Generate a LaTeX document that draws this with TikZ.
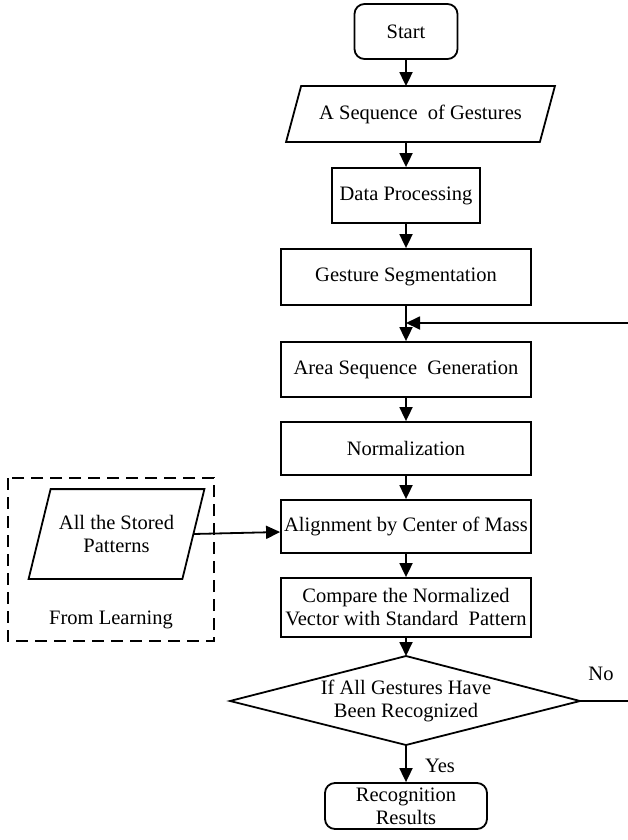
\documentclass[tikz,border=0pt]{standalone}
\usepackage{fontspec}
\setmainfont{Liberation Serif}
\usetikzlibrary{arrows.meta}
\begin{document}
\begin{tikzpicture}[x=1pt,y=-1pt,
  line width=1.8pt,
  every node/.style={font=\fontsize{20.5pt}{23pt}\selectfont, align=center, inner sep=0pt},
  box/.style={draw, rectangle, minimum width=250pt, minimum height=54pt},
  term/.style={draw, rectangle, rounded corners=10pt},
  ghost/.style={rectangle},
  arr/.style={-{Triangle[length=14pt,width=13pt]}},
  plain/.style={-}]
\useasboundingbox (0,0) rectangle (628,840);

\node[term, minimum width=103pt, minimum height=55pt] (start) at (406,31.5) {Start};
\node[ghost, minimum width=252pt, minimum height=54pt] (seq) at (420.5,114) {A Sequence\ \ of Gestures};
\draw ([xshift=7.5pt]seq.north west) -- ([xshift=7.5pt]seq.north east)
      -- ([xshift=-7.5pt]seq.south east) -- ([xshift=-7.5pt]seq.south west) -- cycle;
\node[draw, rectangle, minimum width=148pt, minimum height=55pt] (dp) at (406,195.5) {Data Processing};
\node[box, minimum height=56pt] (gs) at (406,277) {Gesture Segmentation};
\node[box, minimum height=55pt] (asg) at (406,369.5) {Area Sequence\ \ Generation};
\node[box, minimum height=53pt] (norm) at (406,448.5) {Normalization};
\node[box, minimum height=53pt] (align) at (406,526.5) {Alignment\ by\ Center of Mass};
\node[box, minimum height=59pt] (cmp) at (406,607.5) {Compare the Normalized\\Vector with Standard\ \ Pattern};
\coordinate (dl) at (230,701);
\coordinate (dr) at (580,701);
\coordinate (dt) at (406,656);
\coordinate (db) at (406,745);
\draw (dl) -- (dt) -- (dr) -- (db) -- cycle;
\node (dtext) at (406,701) {If All Gestures Have\\Been Recognized};
\node[term, minimum width=162pt, minimum height=46pt] (res) at (406,806) {Recognition\\Results};

% dashed learning box
\draw[dashed, dash pattern=on 12pt off 7pt, line width=1.5pt] (8,478) rectangle (214,641);
\node[ghost, minimum width=152pt, minimum height=88pt] (stored) at (116.5,534) {All the Stored\\Patterns};
\draw ([xshift=11pt]stored.north west) -- ([xshift=11pt]stored.north east)
      -- ([xshift=-11pt]stored.south east) -- ([xshift=-11pt]stored.south west) -- cycle;
\node (learn) at (111,620) {From Learning};

% connectors
\draw[arr] (start.south) -- (start.south |- seq.north);
\draw[arr] (start.south |- seq.south) -- (dp.north);
\draw[arr] (dp.south) -- (gs.north);
\draw[arr] (gs.south) -- (asg.north);
\draw[arr] (asg.south) -- (norm.north);
\draw[arr] (norm.south) -- (align.north);
\draw[arr] (align.south) -- (cmp.north);
\draw[arr] (cmp.south) -- (dt);
\draw[arr] (db) -- (res.north);
\draw[arr] (stored.east) -- ([yshift=-5.5pt]align.west);
\coordinate (loopin) at (628,323);
\coordinate (noout) at (628,701);
\draw[arr] (loopin) -- (gs.south |- loopin);
\draw (dr) -- (noout);
\node (no) at (601,674) {No};
\node (yes) at (440,766) {Yes};
\end{tikzpicture}
\end{document}
